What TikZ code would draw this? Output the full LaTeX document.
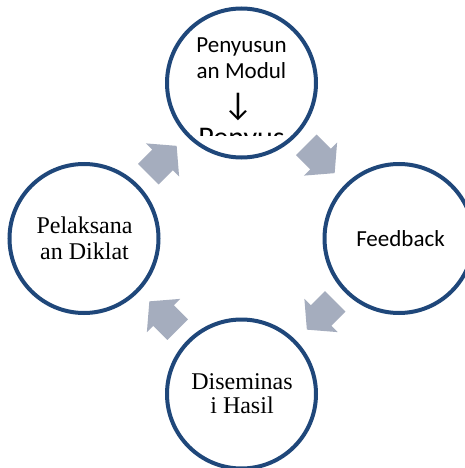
\documentclass[tikz,border=0pt]{standalone}
\usepackage{fontspec}
\setmainfont{Liberation Serif}
\newfontfamily\calib{Carlito}
\definecolor{ringblue}{RGB}{31,71,122}
\definecolor{arrowgrey}{RGB}{165,173,190}
\begin{document}
\begin{tikzpicture}[x=1pt,y=-1pt,
  ring/.style={circle,draw=ringblue,line width=4pt,fill=white,minimum size=149pt,inner sep=0pt},
  sanslbl/.style={font=\calib\fontsize{23}{28}\selectfont,anchor=base,inner sep=0pt},
  seriflbl/.style={font=\fontsize{24}{28}\selectfont,anchor=base,inner sep=0pt},
  blockarrow/.pic={\fill[arrowgrey] (-20,-14.5) -- (0,-14.5) -- (0,-23.5) -- (20,0) -- (0,23.5) -- (0,14.5) -- (-20,14.5) -- cycle;}]
\useasboundingbox (0,0) rectangle (465,468);
\clip (0,0) rectangle (465,468);
\fill[white] (0,0) rectangle (465,468);
% rings
\node[ring] (top) at (241.5,83) {};
\node[ring] (right) at (399,238.5) {};
\node[ring] (bottom) at (241.5,394) {};
\node[ring] (left) at (84,238.5) {};
% block arrows
\pic (aUL) [rotate=45] at (162.5,160) {blockarrow};
\pic (aUR) [rotate=-45] at (320.5,159) {blockarrow};
\pic (aLR) [rotate=-135] at (321,315.5) {blockarrow};
\pic (aLL) [rotate=135] at (163.5,315.5) {blockarrow};
% texts
\begin{scope}
\clip (150,0) rectangle (335,135);
\node[sanslbl] (t1) at (241.5,53) {Penyusun};
\node[sanslbl] (t2) at (241.5,79) {an Modul};
\node[sanslbl,font=\calib\fontsize{33}{36}\selectfont] (t3) at (238,115) {↓};
\node[sanslbl,font=\calib\fontsize{30}{36}\selectfont] (t4) at (241.5,147) {Penyus};
\end{scope}
\node[sanslbl] (fb) at (400.5,246) {Feedback};
\node[seriflbl] (p1) at (84.5,233) {Pelaksana};
\node[seriflbl] (p2) at (84.5,259) {an Diklat};
\node[seriflbl] (d1) at (242,389) {Diseminas};
\node[seriflbl] (d2) at (242,413) {i Hasil};
\end{tikzpicture}
\end{document}
